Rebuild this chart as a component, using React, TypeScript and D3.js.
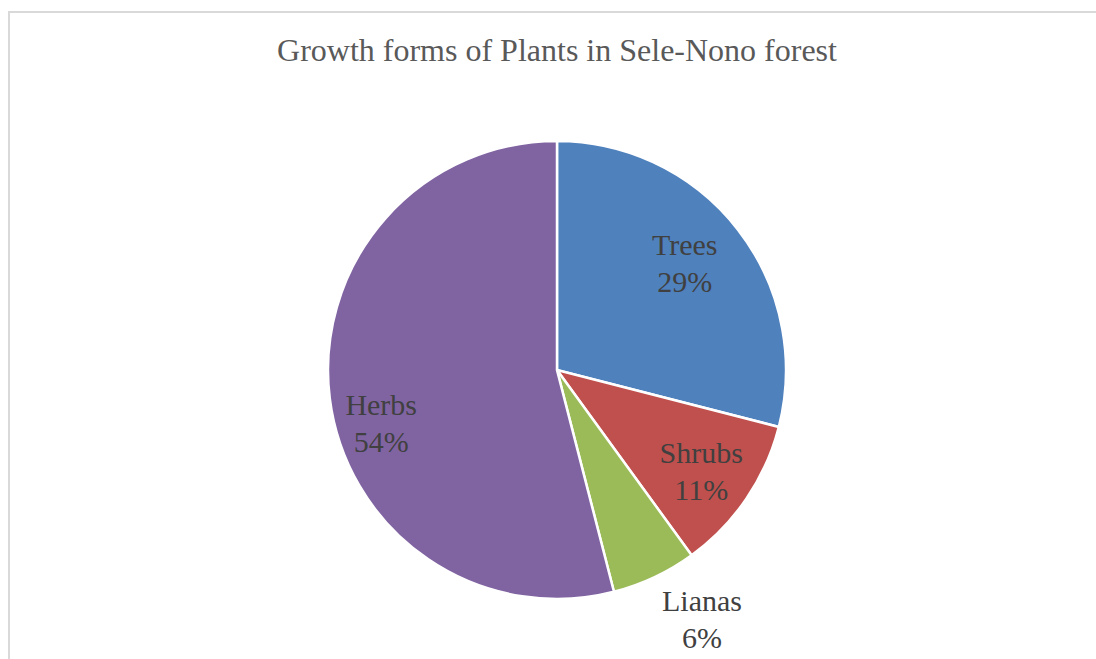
import React from "react";
import * as d3 from "d3";

const categories = ["Trees", "Shrubs", "Lianas", "Herbs"];
const values = [29, 11, 6, 54];
const colors = ["#4F81BD", "#C0504D", "#9BBB59", "#8064A2"];
// label placement: angle offset from slice middle (deg) and radius as fraction of pie radius
const labelAngleOffset = [0.6, 3.4, -3.95, -12.8];
const labelRadiusFrac = [0.7, 0.795, 1.3, 0.817];
const title = "Growth forms of Plants in Sele-Nono forest";

const W = 1096;
const H = 659;
const cx = 557;
const cy = 370;
const R = 229;

export default function App() {
  const pie = d3.pie<number>().sort(null).value((d) => d)(values);
  const arc = d3.arc<d3.PieArcDatum<number>>().innerRadius(0).outerRadius(R);
  const total = d3.sum(values);
  return (
    <svg
      width={W}
      height={H}
      style={{ position: "absolute", left: 0, top: 0, background: "#fff" }}
    >
      <rect x={9} y={12} width={W + 20} height={H + 20} fill="#fff" stroke="#d9d9d9" strokeWidth={2} />
      <text
        x={cx}
        y={61}
        textAnchor="middle"
        fontFamily="'Liberation Serif', 'Times New Roman', serif"
        fontSize={32}
        fill="#595959"
      >
        {title}
      </text>
      <g transform={`translate(${cx},${cy})`}>
        {pie.map((p, i) => (
          <path key={i} d={arc(p) || ""} fill={colors[i]} stroke="#fff" strokeWidth={2.5} />
        ))}
        {pie.map((p, i) => {
          const mid = (p.startAngle + p.endAngle) / 2 + (labelAngleOffset[i] * Math.PI) / 180;
          const r = R * labelRadiusFrac[i];
          const x = r * Math.sin(mid);
          const y = -r * Math.cos(mid);
          const pct = Math.round((values[i] / total) * 100) + "%";
          return (
            <text
              key={"l" + i}
              x={x}
              y={y}
              textAnchor="middle"
              fontFamily="'Liberation Serif', 'Times New Roman', serif"
              fontSize={30}
              fill="#404040"
            >
              <tspan x={x} dy={-18.5}>{categories[i]}</tspan>
              <tspan x={x} dy={37}>{pct}</tspan>
            </text>
          );
        })}
      </g>
    </svg>
  );
}
